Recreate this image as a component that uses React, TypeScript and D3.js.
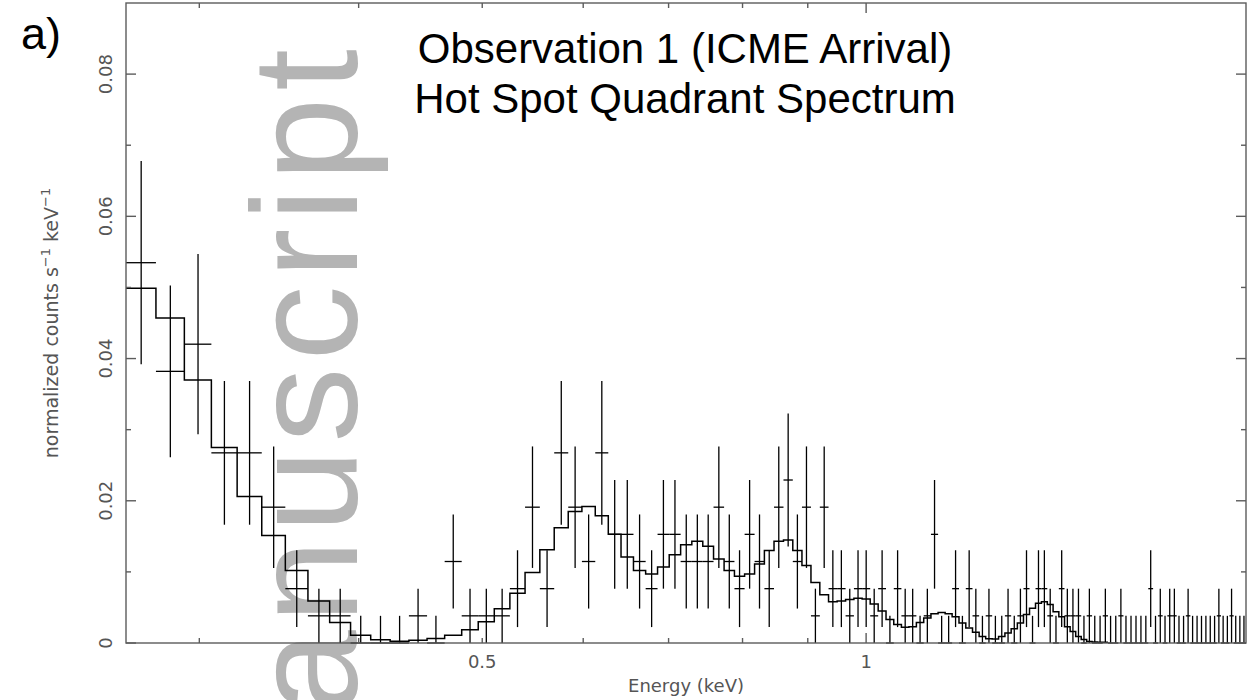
import React from "react";
import * as d3 from "d3";

// Chandra ACIS PI channels are 14.6 eV wide; the spectrum starts at channel 19.
const CHANNEL_KEV = 0.0146;
const FIRST_CHANNEL = 19;
// Normalized rate (counts s^-1 keV^-1) carried by a single count in one channel.
const RATE_PER_COUNT = 0.00382;

// Observed counts per channel, channels 19..136.
const counts = [
  14, 10, 11, 7, 7, 5, 2, 1, 1,
  0, 0, 0, 1, 0, 3, 1, 1, 1, 2,
  5, 2, 7, 5, 3, 7, 4, 4, 3, 2,
  4, 4, 3, 3, 3, 5, 3, 2, 4, 3,
  2, 5, 6, 3, 5, 1, 5, 2, 2, 1,
  2, 2, 1, 2, 0, 2, 1, 1, 0, 1,
  4, 0, 0, 2, 0, 2, 1, 0, 1, 0,
  0, 1, 0, 1, 2, 0, 2, 2, 1, 0,
  2, 1, 1, 1, 0, 1, 0, 0, 1, 0,
  0, 1, 0, 0, 0, 0, 0, 2, 0, 1,
  0, 1, 1, 0, 0, 1, 0, 0, 0, 0,
  0, 0, 1, 0, 0, 1, 0, 0, 0,
];

// Folded model (normalized counts s^-1 keV^-1), channels 19..106.
const model = [
  0.0499, 0.0457, 0.037, 0.0275, 0.0206, 0.0151, 0.0102, 0.0059, 0.0029,
  0.0011, 0.00044, 0.00023, 0.0004, 0.00065, 0.0011, 0.00187, 0.003, 0.0048, 0.007,
  0.0099, 0.0131, 0.0162, 0.0185, 0.0192, 0.0179, 0.0153, 0.0121, 0.0102, 0.0097,
  0.0107, 0.0124, 0.0138, 0.0143, 0.0136, 0.0118, 0.0102, 0.0094, 0.0097, 0.0111,
  0.013, 0.0143, 0.0145, 0.013, 0.0109, 0.0085, 0.0068, 0.0058, 0.0059, 0.0061,
  0.0063, 0.0062, 0.0055, 0.0045, 0.0033, 0.0026, 0.0022, 0.0023, 0.0029, 0.0035,
  0.0041, 0.0043, 0.0041, 0.0037, 0.0028, 0.0021, 0.0015, 0.0009, 0.0006, 0.00056,
  0.0009, 0.0014, 0.002, 0.0028, 0.004, 0.0049, 0.0056, 0.0058, 0.0054, 0.0044,
  0.0037, 0.0023, 0.0016, 0.0009, 0.0005, 0.0002, 0.00014, 0.0001, 0.0001,
];

const xMinorTicks = [0.3, 0.4, 0.5, 0.6, 0.7, 0.8, 0.9];
const xMajorTicks = [1];
const xLabelValues = [0.5, 1];
const xLabelTexts = ["0.5", "1"];
const yMajorTicks = [0, 0.02, 0.04, 0.06, 0.08];
const yMinorTicks = [0.01, 0.03, 0.05, 0.07];
const yLabelTexts = ["0", "0.02", "0.04", "0.06", "0.08"];

const titleLines = ["Observation 1 (ICME Arrival)", "Hot Spot Quadrant Spectrum"];

const W = 1251;
const H = 700;
const LEFT = 126;
const RIGHT = 1246;
const TOP = 3;
const BOTTOM = 643;

const E_MIN = (FIRST_CHANNEL - 1) * CHANNEL_KEV;
const E_MAX = (FIRST_CHANNEL - 1 + counts.length) * CHANNEL_KEV;

const x = d3.scaleLog().domain([E_MIN, E_MAX]).range([LEFT, RIGHT]);
const y = d3.scaleLinear().domain([0, 0.09]).range([BOTTOM, TOP]);

const AXIS = "#5c5c5c";
const LABEL_FONT = "'DejaVu Sans', sans-serif";
const ARIAL = "'Liberation Sans', Arial, sans-serif";

export default function App() {
  const modelPts: [number, number][] = [];
  model.forEach((m, i) => {
    const ch = FIRST_CHANNEL + i;
    modelPts.push([x((ch - 1) * CHANNEL_KEV), y(m)]);
    modelPts.push([x(ch * CHANNEL_KEV), y(m)]);
  });
  const modelPath = d3.line()(modelPts) || "";

  return (
    <svg
      width={W}
      height={H}
      viewBox={`0 0 ${W} ${H}`}
      style={{ position: "absolute", left: 0, top: 0, background: "#fff" }}
    >
      <rect x={0} y={0} width={W} height={H} fill="#fff" />

      {/* vertical watermark running off the page edge */}
      <text
        transform="translate(357,42) rotate(-90)"
        textAnchor="end"
        fontFamily={ARIAL}
        fontSize={150}
        letterSpacing={7}
        fill="#b4b4b4"
      >
        Accepted Manuscript
      </text>

      {/* data: channel width and Poisson error */}
      <g stroke="#000" strokeWidth={1.3}>
        {counts.map((n, i) => {
          const ch = FIRST_CHANNEL + i;
          const lo = (ch - 1) * CHANNEL_KEV;
          const hi = ch * CHANNEL_KEV;
          const mid = (lo + hi) / 2;
          const v = n * RATE_PER_COUNT;
          const e = n > 0 ? Math.sqrt(n) * RATE_PER_COUNT : RATE_PER_COUNT;
          return (
            <g key={ch}>
              <line x1={x(lo)} x2={x(hi)} y1={y(v)} y2={y(v)} />
              <line x1={x(mid)} x2={x(mid)} y1={y(Math.max(0, v - e))} y2={y(v + e)} />
            </g>
          );
        })}
      </g>

      {/* model histogram */}
      <path d={modelPath} fill="none" stroke="#000" strokeWidth={1.5} />

      {/* frame and ticks */}
      <g stroke={AXIS} strokeWidth={1.4} fill="none">
        <rect x={LEFT} y={TOP} width={RIGHT - LEFT} height={BOTTOM - TOP} />
        {xMinorTicks.map((t) => (
          <g key={`xm${t}`}>
            <line x1={x(t)} x2={x(t)} y1={BOTTOM} y2={BOTTOM - 5} />
            <line x1={x(t)} x2={x(t)} y1={TOP} y2={TOP + 5} />
          </g>
        ))}
        {xMajorTicks.map((t) => (
          <g key={`xM${t}`}>
            <line x1={x(t)} x2={x(t)} y1={BOTTOM} y2={BOTTOM - 10} />
            <line x1={x(t)} x2={x(t)} y1={TOP} y2={TOP + 10} />
          </g>
        ))}
        {yMajorTicks.map((t) => (
          <g key={`yM${t}`}>
            <line x1={LEFT} x2={LEFT + 10} y1={y(t)} y2={y(t)} />
            <line x1={RIGHT} x2={RIGHT - 10} y1={y(t)} y2={y(t)} />
          </g>
        ))}
        {yMinorTicks.map((t) => (
          <g key={`ym${t}`}>
            <line x1={LEFT} x2={LEFT + 5} y1={y(t)} y2={y(t)} />
            <line x1={RIGHT} x2={RIGHT - 5} y1={y(t)} y2={y(t)} />
          </g>
        ))}
      </g>

      {/* tick labels */}
      <g fontFamily={LABEL_FONT} fontSize={18} fill="#555">
        {xLabelValues.map((v, i) => (
          <text key={`xl${v}`} x={x(v)} y={668} textAnchor="middle">
            {xLabelTexts[i]}
          </text>
        ))}
        {yMajorTicks.map((v, i) => (
          <text
            key={`yl${v}`}
            transform={`translate(112,${y(v)}) rotate(-90)`}
            textAnchor="middle"
          >
            {yLabelTexts[i]}
          </text>
        ))}
      </g>

      {/* axis titles */}
      <text
        x={(LEFT + RIGHT) / 2}
        y={692}
        textAnchor="middle"
        fontFamily={LABEL_FONT}
        fontSize={18}
        fill="#555"
      >
        Energy (keV)
      </text>
      <text
        transform={`translate(58,${(TOP + BOTTOM) / 2}) rotate(-90)`}
        textAnchor="middle"
        fontFamily={LABEL_FONT}
        fontSize={19}
        fill="#555"
      >
        normalized counts s
        <tspan dy={-8} fontSize={13}>−1</tspan>
        <tspan dy={8}> keV</tspan>
        <tspan dy={-8} fontSize={13}>−1</tspan>
      </text>

      {/* panel title */}
      <g fontFamily={ARIAL} fontSize={42} fill="#000" textAnchor="middle">
        {titleLines.map((t, i) => (
          <text key={t} x={685} y={63 + i * 50}>
            {t}
          </text>
        ))}
      </g>
      <text x={21} y={49} fontFamily={ARIAL} fontSize={45} fill="#000">
        a)
      </text>
    </svg>
  );
}
